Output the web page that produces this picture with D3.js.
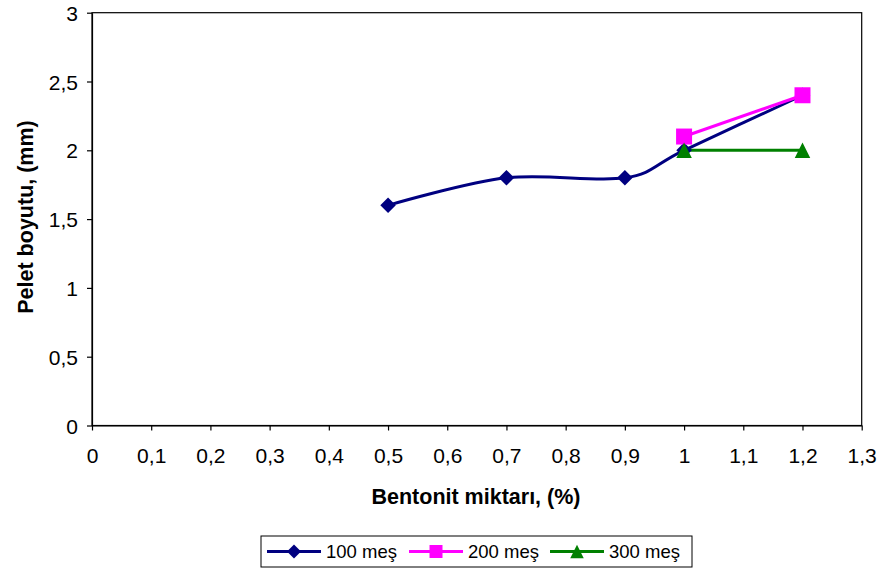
<!DOCTYPE html>
<html><head><meta charset="utf-8">
<script src="https://cdn.jsdelivr.net/npm/d3@7"></script>
<style>body{margin:0;background:#fff}svg{display:block;font-family:"Liberation Sans",Arial,sans-serif}</style>
</head><body><svg id="c" width="880" height="572"></svg>
<script>
const xTicks = [0,0.1,0.2,0.3,0.4,0.5,0.6,0.7,0.8,0.9,1,1.1,1.2,1.3];
const yTicks = [0,0.5,1,1.5,2,2.5,3];
const seriesNames = ["100 meş","200 meş","300 meş"];
const s100x = [0.5,0.7,0.9,1.0,1.2];
const s100y = [1.6,1.8,1.8,2.0,2.4];
const s200x = [1.0,1.2];
const s200y = [2.1,2.4];
const s300x = [1.0,1.2];
const s300y = [2.0,2.0];
const colors = ["#000080","#FF00FF","#008000"];

// marker shapes: size = full width in px
const diamond = {draw(c,s){const r=s/2;c.moveTo(0,-r);c.lineTo(r,0);c.lineTo(0,r);c.lineTo(-r,0);c.closePath();}};
const square = {draw(c,s){const r=s/2;c.rect(-r,-r,s,s);}};
const triangle = {draw(c,s){const r=s/2;c.moveTo(0,-r);c.lineTo(r,r);c.lineTo(-r,r);c.closePath();}};
const shapes=[diamond,square,triangle];
const sizes=[15.5,16,15.5];
const lsizes=[14,13,13.5];

const svg = d3.select("#c");
const L=92, R=861.7, T=12.7, B=425.5;
const x = d3.scaleLinear().domain([0,1.3]).range([L,R]);
const y = d3.scaleLinear().domain([0,3]).range([B,T]);
const fmt = d => String(d).replace(".", ",");

svg.append("rect").attr("x",L).attr("y",T).attr("width",R-L).attr("height",B-T)
  .attr("fill","none").attr("stroke","#000").attr("stroke-width",1.2);

const gx = svg.append("g").attr("transform",`translate(0,${B})`)
  .call(d3.axisBottom(x).tickValues(xTicks).tickFormat(fmt).tickSize(5).tickSizeOuter(0));
const gy = svg.append("g").attr("transform",`translate(${L},0)`)
  .call(d3.axisLeft(y).tickValues(yTicks).tickFormat(fmt).tickSize(5).tickSizeOuter(0));
[gx,gy].forEach(g=>{
  g.select(".domain").attr("stroke","#000").attr("stroke-width",1.2);
  g.selectAll(".tick line").attr("stroke","#000").attr("stroke-width",1.2);
  g.selectAll(".tick text").attr("font-size",21).attr("fill","#000")
   .attr("font-family",'"Liberation Sans",Arial,sans-serif');
});
gx.selectAll(".tick text").attr("y",37.2).attr("dy",0);
gy.selectAll(".tick text").attr("x",-14).attr("dy","0.36em");

svg.append("text").attr("x",476).attr("y",504).attr("text-anchor","middle")
  .attr("font-size",21.5).attr("font-weight","bold").text("Bentonit miktarı, (%)");
svg.append("text").attr("transform","translate(33,217) rotate(-90)").attr("text-anchor","middle")
  .attr("font-size",21.5).attr("font-weight","bold").text("Pelet boyutu, (mm)");

const data = [
  s100x.map((v,i)=>[v,s100y[i]]),
  s200x.map((v,i)=>[v,s200y[i]]),
  s300x.map((v,i)=>[v,s300y[i]])
];
const line = d3.line().x(d=>x(d[0])).y(d=>y(d[1])).curve(d3.curveCatmullRom.alpha(0));
data.forEach((pts,i)=>{
  svg.append("path").attr("d",line(pts)).attr("fill","none")
    .attr("stroke",colors[i]).attr("stroke-width",3);
});
data.forEach((pts,i)=>{
  svg.selectAll(null).data(pts).enter().append("path")
    .attr("d",d3.symbol().type(shapes[i]).size(sizes[i]))
    .attr("transform",d=>`translate(${x(d[0])},${y(d[1])})`)
    .attr("fill",colors[i]);
});

const lg = svg.append("g");
lg.append("rect").attr("x",261).attr("y",536).attr("width",431).attr("height",31)
  .attr("fill","#fff").attr("stroke","#000").attr("stroke-width",1);
const lx=[267,409,550];
seriesNames.forEach((n,i)=>{
  const g=lg.append("g").attr("transform",`translate(${lx[i]},551.5)`);
  g.append("line").attr("x1",0).attr("x2",54).attr("stroke",colors[i]).attr("stroke-width",3);
  g.append("path").attr("d",d3.symbol().type(shapes[i]).size(lsizes[i])()).attr("transform","translate(27,0)").attr("fill",colors[i]);
  g.append("text").attr("x",59).attr("y",6.2).attr("font-size",18.5).text(n);
});
</script></body></html>
